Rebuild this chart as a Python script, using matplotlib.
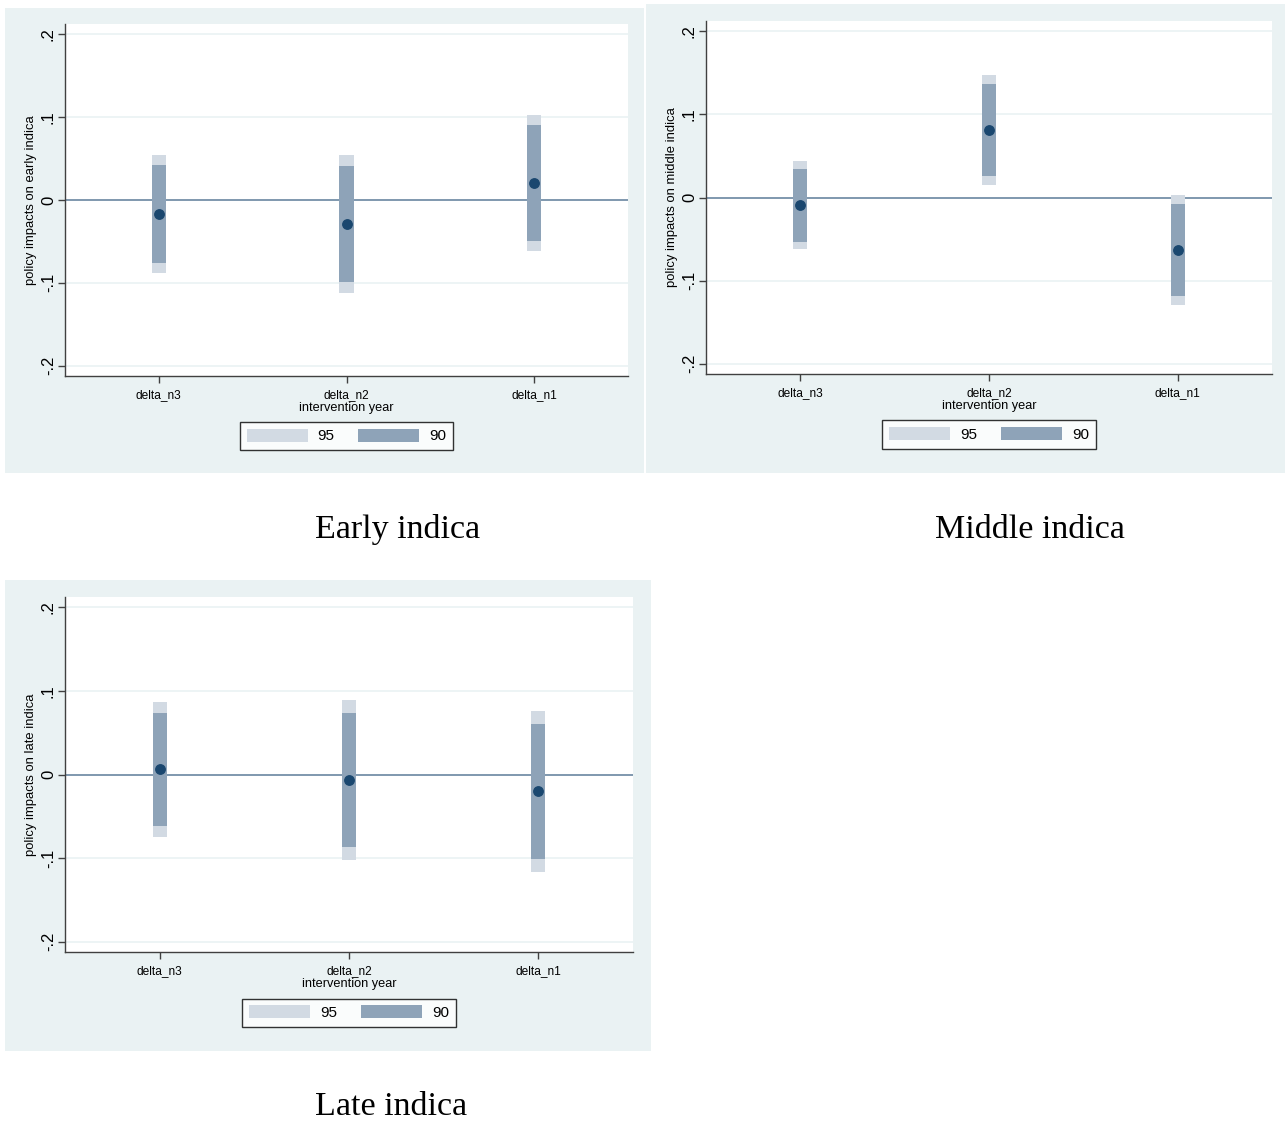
import matplotlib.pyplot as plt
from matplotlib.patches import Patch, Rectangle

# values
categories = ['delta_n3', 'delta_n2', 'delta_n1']
ytick_vals = [-0.2, -0.1, 0, 0.1, 0.2]
ytick_labels = ['-.2', '-.1', '0', '.1', '.2']

early_est = [-0.017, -0.029, 0.0205]
early_lo90 = [-0.076, -0.099, -0.049]
early_hi90 = [0.042, 0.041, 0.090]
early_lo95 = [-0.088, -0.112, -0.062]
early_hi95 = [0.054, 0.054, 0.103]

middle_est = [-0.0096, 0.0814, -0.0633]
middle_lo90 = [-0.0537, 0.026, -0.119]
middle_hi90 = [0.0345, 0.1367, -0.0076]
middle_lo95 = [-0.062, 0.0156, -0.1295]
middle_hi95 = [0.0437, 0.147, 0.003]

late_est = [0.006, -0.0068, -0.0203]
late_lo90 = [-0.062, -0.087, -0.1016]
late_hi90 = [0.074, 0.0737, 0.061]
late_lo95 = [-0.075, -0.102, -0.117]
late_hi95 = [0.087, 0.089, 0.0765]

W, H = 1285, 1121
BG = '#eaf2f3'
C95 = '#d2dae3'
C90 = '#8ea3b8'
CPT = '#1a476f'
CZERO = '#7590a8'

fig = plt.figure(figsize=(W / 100, H / 100), dpi=100)
plt.rcParams['font.family'] = ['Liberation Sans', 'DejaVu Sans']


def px_rect(l, t, r, b):
    return [l / W, 1 - b / H, (r - l) / W, (b - t) / H]


def panel(bg, axpx, est, lo90, hi90, lo95, hi95, ylab, caption, cap_xy):
    fig.patches.append(Rectangle((bg[0], bg[1]), bg[2], bg[3], transform=fig.transFigure,
                                 facecolor=BG, edgecolor='none', zorder=-5))
    ax = fig.add_axes(px_rect(*axpx))
    ax.set_facecolor('white')
    x = list(range(1, len(categories) + 1))
    for yv in ytick_vals:
        if yv != 0:
            ax.axhline(yv, color=BG, lw=1.2, zorder=0.5)
    ax.axhline(0, color=CZERO, lw=1.3, zorder=1)
    ax.bar(x, [h - l for l, h in zip(lo95, hi95)], bottom=lo95, width=0.075,
           color=C95, zorder=2)
    ax.bar(x, [h - l for l, h in zip(lo90, hi90)], bottom=lo90, width=0.075,
           color=C90, zorder=3)
    ax.plot(x, est, 'o', color=CPT, ms=6.8, zorder=4)
    ax.set_xlim(0.5, 3.5)
    ax.set_ylim(-0.2125, 0.2125)
    ax.set_xticks(x)
    ax.set_xticklabels(categories, fontsize=8.6)
    ax.set_yticks(ytick_vals)
    ax.set_yticklabels(ytick_labels, fontsize=12, rotation=90, va='center')
    ax.tick_params(axis='both', length=5, width=1, color='#404040')
    ax.tick_params(axis='x', pad=4.5)
    ax.tick_params(axis='y', pad=1.5)
    for s in ['top', 'right']:
        ax.spines[s].set_visible(False)
    for s in ['left', 'bottom']:
        ax.spines[s].set_color('#404040')
        ax.spines[s].set_linewidth(1)
    ax.set_ylabel(ylab, fontsize=9.4)
    ax.yaxis.set_label_coords(-28 / (axpx[2] - axpx[0]), 0.5)
    ax.set_xlabel('intervention year', fontsize=9.2, labelpad=0.5)
    handles = [Patch(facecolor=C95, edgecolor='none', label='95'),
               Patch(facecolor=C90, edgecolor='none', label='90')]
    leg = ax.legend(handles=handles, ncol=2, loc='center', bbox_to_anchor=(0.5, -0.171),
                    fontsize=11, frameon=True, fancybox=False, edgecolor='black',
                    handlelength=4.0, handleheight=0.9, handletextpad=0.65,
                    columnspacing=1.55, borderpad=0.45, borderaxespad=0)
    leg.get_frame().set_linewidth(1.0)
    fig.text(cap_xy[0] / W, 1 - cap_xy[1] / H, caption, ha='center', va='baseline',
             fontsize=24.5, family=['Liberation Serif', 'DejaVu Serif'])
    return ax


panel(px_rect(5, 8, 644, 473), (65, 24, 628, 376),
      early_est, early_lo90, early_hi90, early_lo95, early_hi95,
      'policy impacts on early indica', 'Early indica', (398, 538))
panel(px_rect(646, 4, 1285, 473), (706, 21, 1272, 374),
      middle_est, middle_lo90, middle_hi90, middle_lo95, middle_hi95,
      'policy impacts on middle indica', 'Middle indica', (1030, 538))
panel(px_rect(5, 580, 651, 1051), (65, 597, 633, 952),
      late_est, late_lo90, late_hi90, late_lo95, late_hi95,
      'policy impacts on late indica', 'Late indica', (391, 1115))

fig.savefig('out.png', dpi=100, facecolor='white')
